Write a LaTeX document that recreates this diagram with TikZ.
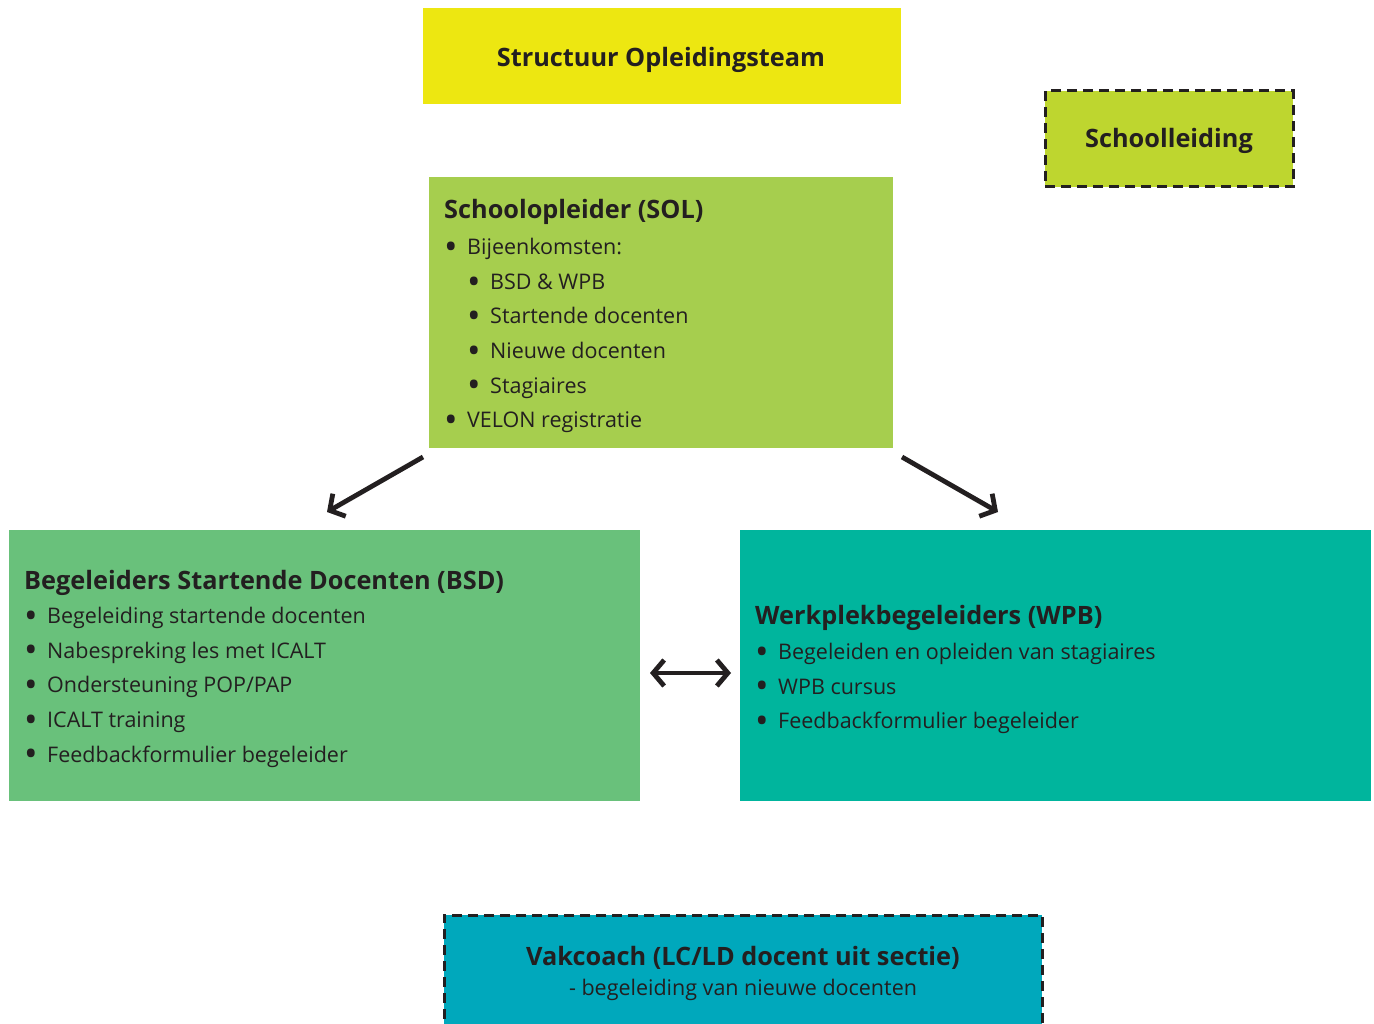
\documentclass[tikz,border=0pt]{standalone}
\usepackage{fontspec}
\setmainfont{Open Sans}
\usetikzlibrary{arrows.meta}

\definecolor{ink}{HTML}{231F20}
\definecolor{headyellow}{HTML}{EDE711}
\definecolor{leadlime}{HTML}{BED62F}
\definecolor{solgreen}{HTML}{A6CE4E}
\definecolor{bsdgreen}{HTML}{69C17B}
\definecolor{wpbteal}{HTML}{00B59D}
\definecolor{coachblue}{HTML}{00A8BC}

\newcommand{\itemfont}{\fontsize{21.5}{25}\selectfont}
\newcommand{\headfont}{\fontsize{25.3}{30}\selectfont\bfseries}
% list bullet: an enlarged round dot, lowered onto the x-height middle
\newcommand{\bul}[1]{\makebox[#1][l]{\raisebox{-4.6pt}{\fontsize{36}{36}\selectfont •}}}

\begin{document}
\begin{tikzpicture}[x=1pt,y=-1pt,
  panel/.style={anchor=north west, inner sep=0pt, outer sep=0pt},
  dashedpanel/.style={panel, draw=ink, line width=3pt, dash pattern=on 10pt off 6pt},
  head/.style={anchor=base west, inner sep=0pt, text=ink, font=\headfont},
  entry/.style={anchor=base west, inner sep=0pt, text=ink, font=\itemfont},
  link/.style={draw=ink, line width=4.8pt,
    -{Straight Barb[length=11pt, width=26pt, line width=4.8pt]}},
  biglink/.style={draw=ink, line width=4.8pt,
    {Straight Barb[length=11pt, width=26pt, line width=4.8pt]}-{Straight Barb[length=11pt, width=26pt, line width=4.8pt]}}
]
\clip (0,0) rectangle (1374,1024);
\fill[white] (0,0) rectangle (1374,1024);

% panels
\node[panel, fill=headyellow, minimum width=478pt, minimum height=96pt] (title) at (423,8) {};
\node[dashedpanel, fill=leadlime, minimum width=248pt, minimum height=96pt] (lead) at (1045,91) {};
\node[panel, fill=solgreen, minimum width=464pt, minimum height=271pt] (sol) at (429,177) {};
\node[panel, fill=bsdgreen, minimum width=631pt, minimum height=271pt] (bsd) at (9,530) {};
\node[panel, fill=wpbteal, minimum width=631pt, minimum height=271pt] (wpb) at (740,530) {};
\node[dashedpanel, fill=coachblue, minimum width=598pt, minimum height=150pt] (coach) at (444,915) {};

% headings
\node[anchor=base, inner sep=0pt, text=ink, font=\headfont] (titletext) at (661,67) {Structuur Opleidingsteam};
\node[anchor=base, inner sep=0pt, text=ink, font=\headfont] (leadtext) at (1169,148) {Schoolleiding};
\node[head] (solhead) at (444,219) {Schoolopleider (SOL)};
\node[head] (bsdhead) at (24,589) {Begeleiders Startende Docenten (BSD)};
\node[head] (wpbhead) at (755,624) {Werkplekbegeleiders (WPB)};
\node[anchor=base, inner sep=0pt, text=ink, font=\headfont] (coachhead) at (743,965) {Vakcoach (LC/LD docent uit sectie)};
\node[anchor=base, inner sep=0pt, text=ink, font=\itemfont] (coachsub) at (743,995) {- begeleiding van nieuwe docenten};

% schoolopleider items
\node[entry] (sol1) at (444,255) {\bul{23pt}Bijeenkomsten:};
\node[entry] (sol2) at (467,289.5) {\bul{23pt}BSD \& WPB};
\node[entry] (sol3) at (467,324) {\bul{23pt}Startende docenten};
\node[entry] (sol4) at (467,358.5) {\bul{23pt}Nieuwe docenten};
\node[entry] (sol5) at (467,393) {\bul{23pt}Stagiaires};
\node[entry] (sol6) at (444,427.5) {\bul{23pt}VELON registratie};

% bsd items
\foreach \t [count=\i] in {Begeleiding startende docenten, Nabespreking les met ICALT,
    Ondersteuning POP/PAP, ICALT training, Feedbackformulier begeleider}
  \node[entry] (bsd\i) at (24,589+34.6*\i) {\bul{23pt}\t};

% wpb items
\foreach \t [count=\i] in {Begeleiden en opleiden van stagiaires, WPB cursus,
    Feedbackformulier begeleider}
  \node[entry] (wpb\i) at (755,625.5+34.4*\i) {\bul{23pt}\t};

% connectors
\coordinate (solL) at (423,457);
\coordinate (bsdT) at (327,512);
\coordinate (solR) at (902,457);
\coordinate (wpbT) at (998,512);
\coordinate (pairL) at (650,673);
\coordinate (pairR) at (731,673);
\draw[link] (solL) -- (bsdT);
\draw[link] (solR) -- (wpbT);
\draw[biglink] (pairL) -- (pairR);
\end{tikzpicture}
\end{document}
